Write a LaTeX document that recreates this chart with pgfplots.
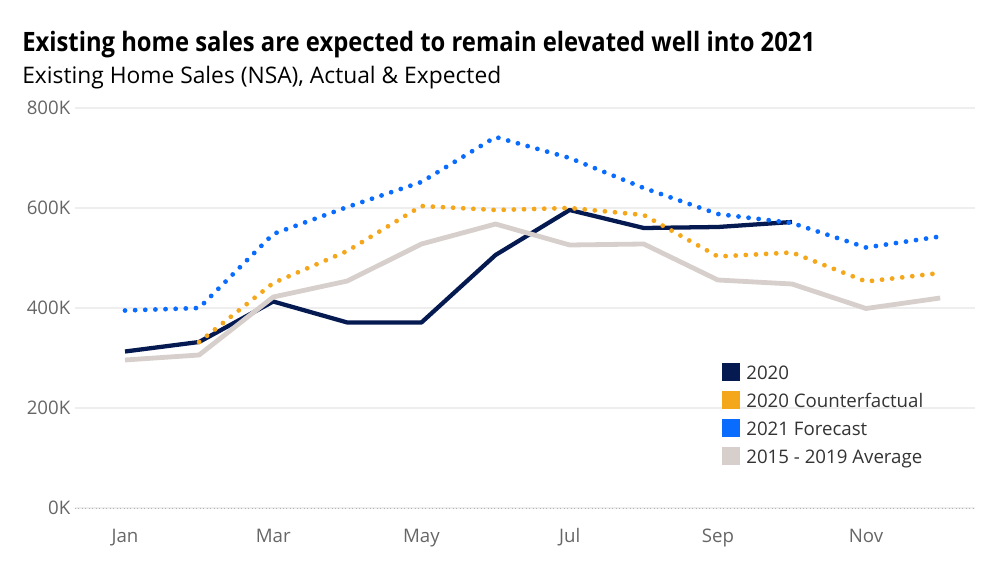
\documentclass[border=0pt]{standalone}
\usepackage{pgfplots}
\pgfplotsset{compat=1.18}
\usepackage{fontspec}
\setmainfont{Open Sans}
\definecolor{cNavy}{HTML}{061A52}
\definecolor{cOrange}{HTML}{F5A71C}
\definecolor{cBlue}{HTML}{0A6CFF}
\definecolor{cGray}{HTML}{D7CFCC}
\definecolor{cTick}{HTML}{666666}
\definecolor{cGrid}{HTML}{EEEEEE}
\pgfplotstableread{
m v
1 313
2 332
3 413
4 371
5 371
6 506
7 596
8 560
9 562
10 572
}\tblA
\pgfplotstableread{
m v
2 332
3 450
4 514
5 604
6 596
7 600
8 586
9 503
10 511
11 453
12 470
}\tblB
\pgfplotstableread{
m v
1 395
2 400
3 548
4 602
5 652
6 742
7 700
8 640
9 588
10 570
11 521
12 543
}\tblC
\pgfplotstableread{
m v
1 296
2 306
3 422
4 454
5 528
6 568
7 526
8 528
9 456
10 448
11 399
12 420
}\tblD
\begin{document}
\begin{tikzpicture}
\path[use as bounding box] (0,0) rectangle (750pt,429pt);
\node[anchor=base west,inner sep=0,font=\fontsize{20}{24}\selectfont\bfseries] at (16.5pt,390pt) {\scalebox{0.893}[1]{Existing home sales are expected to remain elevated well into 2021}};
\node[anchor=base west,inner sep=0,font=\fontsize{17.1}{20}\selectfont] at (16.5pt,366pt) {Existing Home Sales (NSA), Actual \& Expected};
\begin{axis}[
  at={(56.25pt,48pt)}, anchor=south west,
  scale only axis, width=675pt, height=300pt,
  xmin=0.325, xmax=12.47, ymin=0, ymax=800,
  axis line style={draw=none},
  axis x line*=bottom,
  xtick={1,2,3,4,5,6,7,8,9,10,11,12},
  xticklabels={Jan,,Mar,,May,,Jul,,Sep,,Nov,},
  ytick={0,200,400,600,800},
  yticklabels={0K,200K,400K,600K,800K},
  ymajorgrids, grid style={cGrid,line width=0.8pt},
  tick style={draw=none},
  x tick label style={font=\fontsize{14}{16}\selectfont, text=cTick, yshift=-12pt},
  y tick label style={font=\fontsize{14}{16}\selectfont, text=cTick},
  clip=false,
  legend cell align=left,
  legend style={at={(0.719,0.3625)}, anchor=north west, draw=none, fill=none, inner sep=0pt,
    font=\fontsize{14}{16}\selectfont, text=black!80, row sep=5pt},
  legend image code/.code={\fill[#1,draw=none] (0pt,-5.5pt) rectangle (13.5pt,8pt);
    \path[draw=none,fill=none] (0pt,0pt) rectangle (16pt,0.1pt);},
]
\draw[cTick!50,dotted,line width=0.6pt] (axis cs:0.325,0) -- (axis cs:12.47,0);
\addplot[cNavy, line width=3.2pt, line join=round] table[x=m,y=v] {\tblA};
\addlegendentry{2020}
\addplot[cOrange, line width=3.6pt, line cap=round, dash pattern=on 0pt off 7.6pt] table[x=m,y=v] {\tblB};
\addlegendentry{2020 Counterfactual}
\addplot[cBlue, line width=3.6pt, line cap=round, dash pattern=on 0pt off 7.6pt] table[x=m,y=v] {\tblC};
\addlegendentry{2021 Forecast}
\addplot[cGray, line width=3.6pt, line join=round] table[x=m,y=v] {\tblD};
\addlegendentry{2015 - 2019 Average}
\end{axis}
\end{tikzpicture}
\end{document}
